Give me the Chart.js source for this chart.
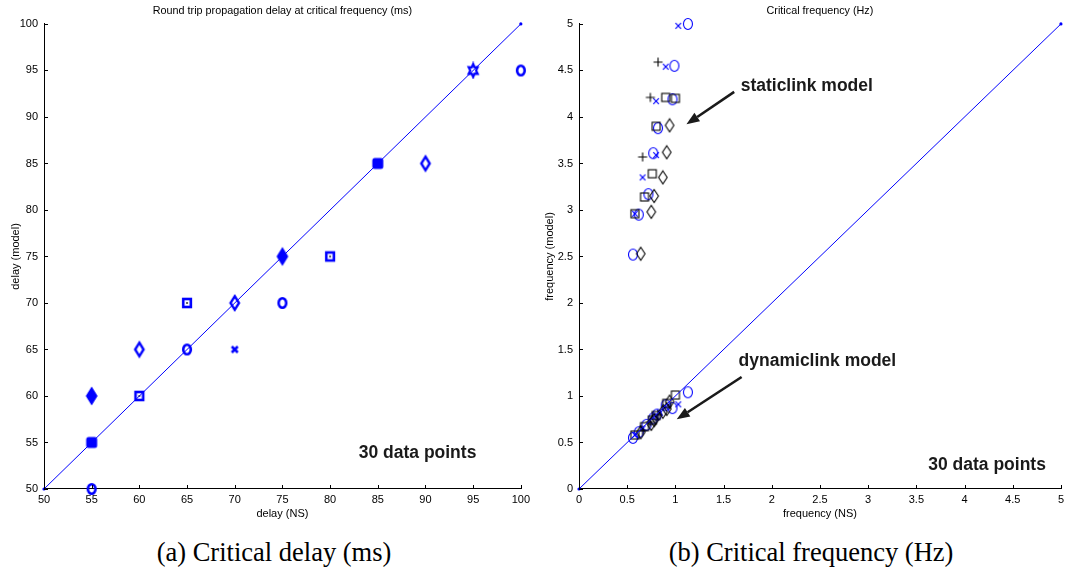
<!DOCTYPE html>
<html>
<head>
<meta charset="utf-8">
<script src="https://cdn.jsdelivr.net/npm/chart.js@4.4.1/dist/chart.umd.min.js"></script>
<style>
  html, body { margin: 0; padding: 0; background: #fff; width: 1068px; height: 577px; overflow: hidden; }
  canvas { position: absolute; top: 0; }
  #delayChart { left: 0; }
  #freqChart { left: 534px; }
  .cap { position: absolute; top: 537px; font-family: 'Liberation Serif', 'Times New Roman', serif; font-size: 26.5px;
         line-height: 30px; white-space: nowrap; color: #000; transform: translateX(-50%); }
</style>
</head>
<body>
<canvas id="delayChart" width="534" height="530"></canvas>
<canvas id="freqChart" width="534" height="530"></canvas>
<div class="cap" style="left:274px">(a) Critical delay (ms)</div>
<div class="cap" style="left:811px">(b) Critical frequency (Hz)</div>

<script>
// ---- tick labels ----
const delayTicks = [50, 55, 60, 65, 70, 75, 80, 85, 90, 95, 100];
const freqTicks = [0, 0.5, 1, 1.5, 2, 2.5, 3, 3.5, 4, 4.5, 5];

// ---- (a) critical delay: [NS, model] pairs per marker type ----
const delayDiagonal = [[50, 50], [100, 100]];
const delayCircle = [[55, 50], [65, 65], [75, 70], [100, 95]];
const delayDiamond = [[60, 65], [70, 70], [90, 85]];
const delayDiamondFilled = [[55, 60], [75, 75]];
const delaySquare = [[60, 60], [65, 70], [80, 75]];
const delaySquareFilled = [[55, 55], [85, 85]];
const delayCross = [[70, 65]];
const delayStar = [[95, 95]];

// ---- (b) critical frequency: [NS, model] pairs per marker type ----
const freqDiagonal = [[0, 0], [5, 5]];
const staticCircle = [[1.13, 5.0], [0.99, 4.55], [0.97, 4.19], [0.82, 3.88], [0.77, 3.61], [0.72, 3.17], [0.62, 2.95], [0.56, 2.52]];
const staticX = [[1.03, 4.98], [0.90, 4.54], [0.80, 4.17], [0.80, 3.59], [0.66, 3.35], [0.58, 2.96]];
const staticPlus = [[0.82, 4.59], [0.74, 4.21], [0.66, 3.57]];
const staticSquare = [[0.90, 4.21], [1.00, 4.20], [0.80, 3.90], [0.76, 3.39], [0.68, 3.14], [0.58, 2.96]];
const staticDiamond = [[0.94, 3.91], [0.91, 3.62], [0.87, 3.35], [0.78, 3.15], [0.75, 2.98], [0.64, 2.53]];
const dynamicCircle = [[0.56, 0.55], [0.62, 0.61], [0.70, 0.69], [0.77, 0.76], [0.81, 0.80], [0.97, 0.87], [1.13, 1.04], [0.90, 0.90]];
const dynamicX = [[0.58, 0.58], [0.66, 0.65], [0.80, 0.78], [0.84, 0.82], [1.03, 0.91], [0.90, 0.88]];
const dynamicPlus = [[0.66, 0.63], [0.74, 0.72], [0.82, 0.80]];
const dynamicSquare = [[0.58, 0.58], [0.68, 0.67], [0.76, 0.74], [0.80, 0.79], [0.91, 0.92], [1.00, 1.01]];
const dynamicDiamond = [[0.64, 0.61], [0.75, 0.70], [0.78, 0.74], [0.87, 0.83], [0.91, 0.86], [0.94, 0.94]];

const BLUE = '#0000ff';
const BLACK = '#000000';
const SANS = "'Liberation Sans', Arial, Helvetica, sans-serif";

// ---- marker glyphs ----
function glyph(w, h, draw) {
  const c = document.createElement('canvas');
  c.width = w; c.height = h;
  const g = c.getContext('2d');
  g.translate(w / 2, h / 2);
  g.lineJoin = 'miter';
  draw(g);
  return c;
}
function diamondPath(g, rx, ry) {
  g.beginPath(); g.moveTo(0, -ry); g.lineTo(rx, 0); g.lineTo(0, ry); g.lineTo(-rx, 0); g.closePath();
}
const mk = {
  boldCircle: glyph(14, 16, g => { g.strokeStyle = BLUE; g.lineWidth = 2.6; g.beginPath(); g.ellipse(0, 0, 3.8, 4.8, 0, 0, Math.PI * 2); g.stroke(); }),
  boldDiamond: glyph(14, 20, g => { g.strokeStyle = BLUE; g.lineWidth = 2.4; diamondPath(g, 4.2, 6.8); g.stroke(); }),
  filledDiamond: glyph(16, 22, g => { g.fillStyle = BLUE; g.strokeStyle = BLUE; g.lineWidth = 1.5; diamondPath(g, 5, 8); g.fill(); g.stroke(); }),
  boldSquare: glyph(14, 14, g => { g.strokeStyle = BLUE; g.lineWidth = 2.6; g.strokeRect(-3.8, -4, 7.6, 8); g.fillStyle = '#111'; g.fillRect(-0.8, -0.8, 1.6, 1.6); }),
  filledSquare: glyph(14, 14, g => { g.fillStyle = BLUE; g.beginPath(); g.roundRect(-5.5, -5.5, 11, 11, 2.5); g.fill(); }),
  boldCross: glyph(12, 12, g => { g.strokeStyle = BLUE; g.lineWidth = 2.6; g.beginPath(); g.moveTo(-3, -3); g.lineTo(3, 3); g.moveTo(3, -3); g.lineTo(-3, 3); g.stroke(); }),
  boldStar: glyph(16, 18, g => {
    g.strokeStyle = BLUE; g.lineWidth = 2.2; g.beginPath();
    for (let i = 0; i < 12; i++) {
      const a = -Math.PI / 2 + i * Math.PI / 6, r = i % 2 === 0 ? 6.5 : 3.6;
      const px = Math.cos(a) * r * 0.8, py = Math.sin(a) * r;
      i === 0 ? g.moveTo(px, py) : g.lineTo(px, py);
    }
    g.closePath(); g.stroke();
  }),
  thinCircle: glyph(14, 16, g => { g.strokeStyle = BLUE; g.lineWidth = 1.1; g.beginPath(); g.ellipse(0, 0, 4.5, 5.5, 0, 0, Math.PI * 2); g.stroke(); }),
  thinX: glyph(10, 10, g => { g.strokeStyle = BLUE; g.lineWidth = 1.2; g.beginPath(); g.moveTo(-2.8, -2.8); g.lineTo(2.8, 2.8); g.moveTo(2.8, -2.8); g.lineTo(-2.8, 2.8); g.stroke(); }),
  thinPlus: glyph(12, 12, g => { g.strokeStyle = BLACK; g.lineWidth = 1.1; g.beginPath(); g.moveTo(-4.5, 0); g.lineTo(4.5, 0); g.moveTo(0, -4.5); g.lineTo(0, 4.5); g.stroke(); }),
  thinSquare: glyph(12, 12, g => { g.strokeStyle = BLACK; g.lineWidth = 1.1; g.strokeRect(-4, -4, 8, 8); }),
  thinDiamond: glyph(12, 16, g => { g.strokeStyle = BLACK; g.lineWidth = 1.1; diamondPath(g, 4.3, 6.5); g.stroke(); })
};

const toXY = arr => arr.map(([x, y]) => ({ x, y }));

function markerSet(data, style) {
  return { type: 'scatter', data: toXY(data), pointStyle: style, pointRadius: 5, pointHoverRadius: 5, clip: false, showLine: false };
}
function diagonal(data) {
  return { type: 'line', data: toXY(data), borderColor: BLUE, borderWidth: 1, pointRadius: 1.6, pointBackgroundColor: BLUE,
           pointBorderWidth: 0, pointStyle: 'circle', fill: false, tension: 0, clip: false };
}

// inward tick marks along the left and bottom axes
const innerTicks = {
  id: 'innerTicks',
  afterDraw(chart) {
    const { ctx, chartArea, scales: { x, y } } = chart;
    ctx.save();
    ctx.strokeStyle = '#000'; ctx.lineWidth = 1; ctx.beginPath();
    x.ticks.forEach(t => { const px = Math.round(x.getPixelForValue(t.value)) + 0.5; ctx.moveTo(px, chartArea.bottom); ctx.lineTo(px, chartArea.bottom - 4); });
    y.ticks.forEach(t => { const py = Math.round(y.getPixelForValue(t.value)) + 0.5; ctx.moveTo(chartArea.left, py); ctx.lineTo(chartArea.left + 4, py); });
    ctx.stroke(); ctx.restore();
  }
};

// bold notes and arrows placed in data coordinates
const notes = {
  id: 'notes',
  afterDatasetsDraw(chart, args, opts) {
    const { ctx, scales: { x, y } } = chart;
    ctx.save();
    ctx.fillStyle = '#1a1a1a';
    ctx.font = "bold 17.5px " + SANS;
    ctx.textAlign = 'left'; ctx.textBaseline = 'middle';
    (opts.labels || []).forEach(l => ctx.fillText(l.text, x.getPixelForValue(l.x), y.getPixelForValue(l.y)));
    (opts.arrows || []).forEach(a => {
      const x0 = x.getPixelForValue(a.from[0]), y0 = y.getPixelForValue(a.from[1]);
      const x1 = x.getPixelForValue(a.to[0]), y1 = y.getPixelForValue(a.to[1]);
      const ang = Math.atan2(y1 - y0, x1 - x0), len = 13, half = 5;
      const bx = x1 - Math.cos(ang) * len, by = y1 - Math.sin(ang) * len;
      ctx.strokeStyle = '#1a1a1a'; ctx.lineWidth = 2.6;
      ctx.beginPath(); ctx.moveTo(x0, y0); ctx.lineTo(bx, by); ctx.stroke();
      ctx.beginPath(); ctx.moveTo(x1, y1);
      ctx.lineTo(bx + Math.sin(ang) * half, by - Math.cos(ang) * half);
      ctx.lineTo(bx - Math.sin(ang) * half, by + Math.cos(ang) * half);
      ctx.closePath(); ctx.fill();
    });
    ctx.restore();
  }
};

function axis(ticksArr, titleText, isY, fitSize, titlePad) {
  return {
    type: 'linear',
    min: ticksArr[0], max: ticksArr[ticksArr.length - 1],
    afterBuildTicks: s => { s.ticks = ticksArr.map(v => ({ value: v })); },
    afterFit: s => { if (isY) s.width = fitSize; else s.height = fitSize; },
    grid: { display: false, drawTicks: false, tickLength: 0 },
    border: { display: true, color: '#000', width: 1 },
    ticks: { color: '#000', font: { family: SANS, size: 11 }, padding: isY ? 6 : 4, autoSkip: false, maxRotation: 0,
             callback: v => String(v) },
    title: { display: true, text: titleText, color: '#000', font: { family: SANS, size: 11 }, padding: titlePad }
  };
}

function makeChart(id, datasets, xTicks, yTicks, titles, yWidth, padRight, noteOpts, yTitlePad) {
  return new Chart(document.getElementById(id), {
    data: { datasets },
    options: {
      responsive: false, animation: false, devicePixelRatio: 1,
      layout: { padding: { left: 0, right: padRight, top: 0, bottom: 0 } },
      scales: {
        x: axis(xTicks, titles.x, false, 41, { top: 0, bottom: 9 }),
        y: axis(yTicks, titles.y, true, yWidth, { top: yTitlePad, bottom: 0 })
      },
      plugins: {
        legend: { display: false },
        tooltip: { enabled: false },
        title: { display: true, text: titles.main, fullSize: false, color: '#000',
                 font: { family: SANS, size: 10.8, weight: 'normal' }, padding: { top: 4.5, bottom: 6.5 } },
        notes: noteOpts
      }
    },
    plugins: [innerTicks, notes]
  });
}

makeChart('delayChart', [
  diagonal(delayDiagonal),
  markerSet(delayCircle, mk.boldCircle),
  markerSet(delayDiamond, mk.boldDiamond),
  markerSet(delayDiamondFilled, mk.filledDiamond),
  markerSet(delaySquare, mk.boldSquare),
  markerSet(delaySquareFilled, mk.filledSquare),
  markerSet(delayCross, mk.boldCross),
  markerSet(delayStar, mk.boldStar)
], delayTicks, delayTicks,
  { main: 'Round trip propagation delay at critical frequency (ms)', x: 'delay (NS)', y: 'delay (model)' },
  44, 11,
  { labels: [{ text: '30 data points', x: 83.0, y: 53.87 }], arrows: [] }, 9.4);

makeChart('freqChart', [
  diagonal(freqDiagonal),
  markerSet(staticSquare, mk.thinSquare),
  markerSet(staticDiamond, mk.thinDiamond),
  markerSet(staticPlus, mk.thinPlus),
  markerSet(staticX, mk.thinX),
  markerSet(staticCircle, mk.thinCircle),
  markerSet(dynamicSquare, mk.thinSquare),
  markerSet(dynamicDiamond, mk.thinDiamond),
  markerSet(dynamicPlus, mk.thinPlus),
  markerSet(dynamicX, mk.thinX),
  markerSet(dynamicCircle, mk.thinCircle)
], freqTicks, freqTicks,
  { main: 'Critical frequency (Hz)', x: 'frequency (NS)', y: 'frequency (model)' },
  45, 6,
  {
    labels: [
      { text: 'staticlink model', x: 1.677, y: 4.333 },
      { text: 'dynamiclink model', x: 1.656, y: 1.376 },
      { text: '30 data points', x: 3.623, y: 0.258 }
    ],
    arrows: [
      { from: [1.61, 4.27], to: [1.115, 3.921] },
      { from: [1.687, 1.204], to: [1.014, 0.749] }
    ]
  }, 9.4);
</script>
</body>
</html>
